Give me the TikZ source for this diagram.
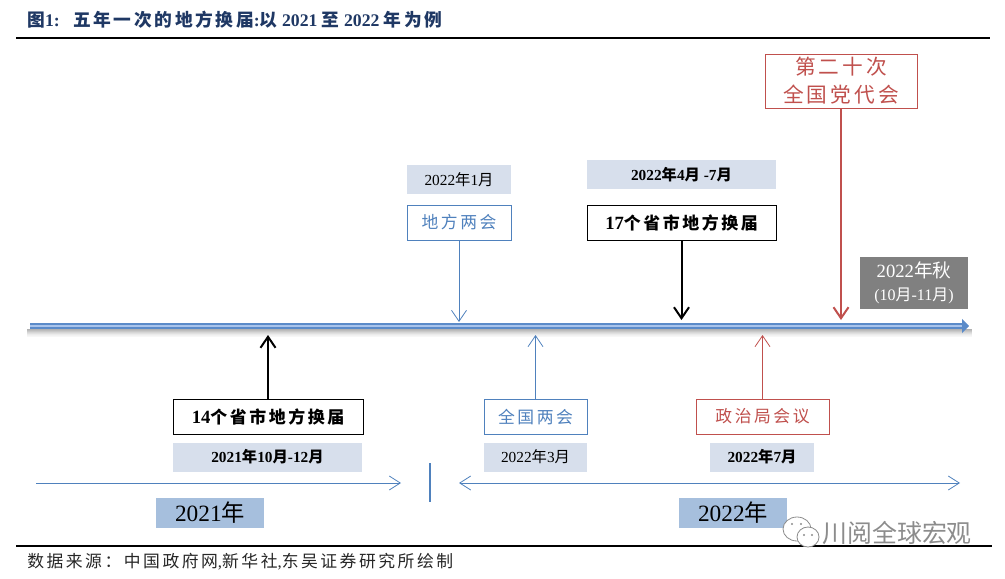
\documentclass[tikz,border=0pt]{standalone}
\usepackage{fontspec}
\usetikzlibrary{arrows.meta}
\setmainfont{Liberation Serif}
\newfontfamily\cjk[LetterSpace=15]{Noto Sans CJK SC}
\newfontfamily\cjkt{Noto Sans CJK SC}
\newcommand{\zh}[1]{{\cjk #1}}
\newcommand{\zt}[1]{{\cjkt #1}}
\def\px{.75pt}
\definecolor{axisblue}{HTML}{5B8BC9}
\definecolor{axislight}{HTML}{A9C4EC}
\definecolor{lineblue}{HTML}{4F81BD}
\definecolor{linered}{HTML}{C0504D}
\definecolor{datefill}{HTML}{D7DFEC}
\definecolor{yearfill}{HTML}{A6BFDD}
\definecolor{titlenavy}{HTML}{1F3864}
\tikzset{
	evbox/.style={draw,fill=white,line width=1*\px,inner sep=0,minimum height=35*\px,font=\fontsize{12.6}{15}\selectfont},
	datebar/.style={fill=datefill,inner sep=0,minimum height=29*\px,font=\fontsize{11.5}{13}\selectfont},
	yearbar/.style={fill=yearfill,inner sep=0,minimum width=108*\px,minimum height=30*\px,font=\fontsize{17.5}{20}\selectfont},
	evarrow/.style={-{Straight Barb[length=11*\px,width=15*\px]}},
	rangearrow/.style={color=lineblue,line width=.8*\px}
}
\begin{document}
\begin{tikzpicture}[x=.75pt,y=-.75pt]
	\useasboundingbox (0,0) rectangle (1005,578);
	% header and footer
	\node[anchor=west,inner sep=0,text=titlenavy,font=\bfseries\fontsize{13.3}{15}\selectfont] (title) at (27,20){\zh{图}1:\ \ \ \zh{五年一次的地方换届}:\zh{以} 2021 \zh{至} 2022 \zh{年为例}};
	\coordinate (topL) at (16,38);
	\coordinate (topR) at (990,38);
	\coordinate (botL) at (16,546);
	\coordinate (botR) at (992,546);
	\draw[line width=2*\px] (topL)--(topR) (botL)--(botR);
	\node[anchor=west,inner sep=0,text=black!85,font=\fontsize{12.6}{15}\selectfont] (source) at (27,562){\zh{数据来源：中国政府网},\zh{新华社},\zh{东吴证券研究所绘制}};
	% time axis, its shadow first
	\foreach \d/\o in {0/.3,1/.26,2/.21,3/.16,4/.12,5/.08,6/.05,7/.03}
		\draw[black,opacity=\o,line width=1*\px] (27,329.5+\d)--(972,329.5+\d);
	\coordinate (axisL) at (30,326);
	\coordinate (axisR) at (969,326);
	\draw[axisblue,line width=2*\px,double=axislight,double distance=2*\px,-{Triangle[length=7*\px,width=14*\px]}] (axisL)--(axisR);
	% events above the axis
	\node[datebar,minimum width=104*\px] (dateA) at (459,179.5){2022\zt{年}1\zt{月}};
	\node[evbox,draw=lineblue,text=lineblue,minimum width=104*\px] (liangA) at (459,222.5){\zh{地方两会}};
	\coordinate (hitA) at (459,322);
	\draw[evarrow,lineblue,line width=.8*\px] (liangA)--(hitA);
	\node[datebar,minimum width=189*\px,font=\bfseries\fontsize{11.5}{13}\selectfont] (dateB) at (681.5,174.5){2022\zt{年}4\zt{月} -7\zt{月}};
	\node[evbox,minimum width=189*\px,font=\bfseries\fontsize{12.7}{15}\selectfont] (hjB) at (681.5,222.5){\fontsize{14}{15}\selectfont 17\fontsize{12.7}{15}\selectfont\zh{个省市地方换届}};
	\coordinate (hitB) at (681.5,320);
	\draw[evarrow,line width=2*\px] (hjB)--(hitB);
	\node[evbox,draw=linered,text=linered,minimum width=152*\px,minimum height=54*\px,align=center,font=\fontsize{15.5}{21}\selectfont] (party) at (841,81){\zh{第二十次}\\\zh{全国党代会}};
	\coordinate (hitC) at (841,320);
	\draw[evarrow,linered,line width=2*\px] (party)--(hitC);
	\node[fill=black!50,text=white,inner sep=0,minimum width=108*\px,minimum height=52*\px,align=center,font=\fontsize{14}{17}\selectfont] (autumn) at (914,283){2022\zt{年秋}\\{\fontsize{12}{15}\selectfont (10\zt{月}-11\zt{月})}};
	% events below the axis
	\node[evbox,minimum width=190*\px,font=\bfseries\fontsize{12.7}{15}\selectfont] (hjD) at (268,416.5){\fontsize{14}{15}\selectfont 14\fontsize{12.7}{15}\selectfont\zh{个省市地方换届}};
	\node[datebar,minimum width=189*\px,font=\bfseries\fontsize{11.5}{13}\selectfont] (dateD) at (267.5,457){2021\zt{年}10\zt{月}-12\zt{月}};
	\coordinate (hitD) at (268,335);
	\draw[evarrow,line width=2*\px] (hjD)--(hitD);
	\node[evbox,draw=lineblue,text=lineblue,minimum width=103*\px] (liangE) at (535.5,417){\zh{全国两会}};
	\node[datebar,minimum width=103*\px] (dateE) at (535.5,457){2022\zt{年}3\zt{月}};
	\coordinate (hitE) at (535.5,335);
	\draw[evarrow,lineblue,line width=.8*\px] (liangE)--(hitE);
	\node[evbox,draw=linered,text=linered,minimum width=133*\px] (polit) at (762.5,416.5){\zh{政治局会议}};
	\node[datebar,minimum width=104*\px,font=\bfseries\fontsize{11.5}{13}\selectfont] (dateF) at (762,457){2022\zt{年}7\zt{月}};
	\coordinate (hitF) at (762.5,335);
	\draw[evarrow,linered,line width=.8*\px] (polit)--(hitF);
	% year ranges
	\coordinate (rngAL) at (36,483);
	\coordinate (rngAR) at (401,483);
	\coordinate (rngBL) at (459,483);
	\coordinate (rngBR) at (960,483);
	\coordinate (divT) at (430,463);
	\coordinate (divB) at (430,502);
	\draw[rangearrow,-{Straight Barb[length=11*\px,width=14*\px]}] (rngAL)--(rngAR);
	\draw[rangearrow,{Straight Barb[length=11*\px,width=14*\px]}-{Straight Barb[length=11*\px,width=14*\px]}] (rngBL)--(rngBR);
	\draw[lineblue,line width=2*\px] (divT)--(divB);
	\node[yearbar] (yearA) at (210,513){2021\zt{年}};
	\node[yearbar] (yearB) at (733,513){2022\zt{年}};
	% watermark
	\draw[black!45,fill=white,line width=.8*\px] (797,529) ellipse (14 and 12);
	\draw[black!45,fill=white,line width=.8*\px] (808,537) ellipse (11 and 10);
	\foreach \x/\y in {792/524,801/524,804/535,812/535}
		\fill[black!45] (\x,\y) circle (1.2);
	\node[anchor=west,inner sep=0,text=black!45,font=\fontsize{18.7}{20}\selectfont] (mark) at (822,533){\zt{川阅全球宏观}};
\end{tikzpicture}
\end{document}
